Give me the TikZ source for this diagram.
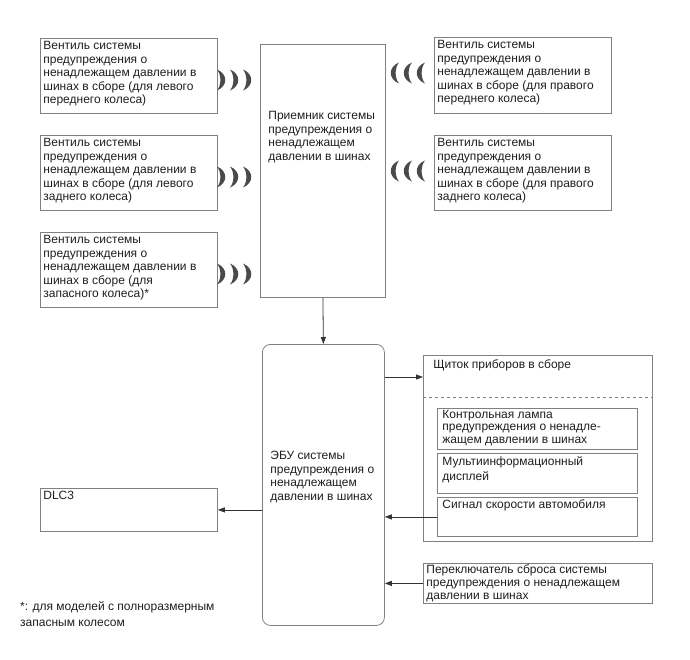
\documentclass[tikz,border=0pt]{standalone}
\usepackage{fontspec}
\setmainfont{Liberation Sans}
\usetikzlibrary{arrows.meta}
\definecolor{bordergray}{HTML}{808080}
\definecolor{textgray}{HTML}{1E1E1E}
\definecolor{linegray}{HTML}{333333}
\definecolor{wavegray}{HTML}{4A4A4A}
\newcommand{\tb}[3]{\begin{minipage}[t][#2pt][t]{#1pt}\raggedright\strut #3\end{minipage}}
\newcommand{\tbv}[4]{\begin{minipage}[t][#2pt][t]{#1pt}\raggedright\vspace*{#3pt}\strut #4\end{minipage}}
\newcommand{\crR}[2]{\fill[wavegray] (#1,#2-10.5) .. controls (#1+11,#2-6) and (#1+11,#2+6) .. (#1,#2+10.5) .. controls (#1+4.5,#2+5) and (#1+4.5,#2-5) .. (#1,#2-10.5) -- cycle;}
\newcommand{\crL}[2]{\fill[wavegray] (#1,#2-10.5) .. controls (#1-11,#2-6) and (#1-11,#2+6) .. (#1,#2+10.5) .. controls (#1-4.5,#2+5) and (#1-4.5,#2-5) .. (#1,#2-10.5) -- cycle;}
\begin{document}
\begin{tikzpicture}[x=1pt,y=-1pt,
  font=\fontsize{12}{13.5}\selectfont,
  box/.style={draw=bordergray, line width=0.8pt, anchor=north west, inner xsep=3pt, inner ysep=2pt, text=textgray},
  arr/.style={draw=linegray, line width=0.8pt, -{Triangle[length=7pt,width=5pt]}},
  note/.style={anchor=north west, inner sep=0pt, align=left, text=textgray}]
\useasboundingbox (0,0) rectangle (690,659);
% left valves
\node[box] (lf) at (40,38) {\tb{171}{71}{Вентиль системы\\предупреждения о\\ненадлежащем давлении в\\шинах в сборе (для левого\\переднего колеса)}};
\node[box] (lr) at (40,135) {\tb{171}{71}{Вентиль системы\\предупреждения о\\ненадлежащем давлении в\\шинах в сборе (для левого\\заднего колеса)}};
\node[box] (sp) at (40,232) {\tb{171}{71}{Вентиль системы\\предупреждения о\\ненадлежащем давлении в\\шинах в сборе (для\\запасного колеса)*}};
% right valves
\node[box] (rf) at (434,37) {\tb{171}{72}{Вентиль системы\\предупреждения о\\ненадлежащем давлении в\\шинах в сборе (для правого\\переднего колеса)}};
\node[box] (rr) at (434,135) {\tb{171}{71}{Вентиль системы\\предупреждения о\\ненадлежащем давлении в\\шинах в сборе (для правого\\заднего колеса)}};
% receiver
\node[box, inner xsep=8pt] (rc) at (260,44) {\tbv{109}{249}{64}{Приемник системы\\предупреждения о\\ненадлежащем\\давлении в шинах}};
% ECU
\node[box, rounded corners=8pt, inner xsep=8pt] (ecu) at (262,344) {\tbv{106}{277}{104}{ЭБУ системы\\предупреждения о\\ненадлежащем\\давлении в шинах}};
% cluster
\node[box, inner xsep=10pt, inner ysep=4pt] (cl) at (423,355) {\tb{209}{178}{Щиток приборов в сборе}};
\draw[bordergray, line width=0.8pt, dashed] (cl.west |- 0,397) -- (cl.east |- 0,397);
\node[box, inner xsep=5pt, inner ysep=1pt, font=\fontsize{12}{12.5}\selectfont] (lamp) at (437,408) {\tb{190}{39}{Контрольная лампа\\предупреждения о ненадле-\\жащем давлении в шинах}};
\node[box, inner xsep=5pt, inner ysep=2pt, font=\fontsize{12}{15}\selectfont] (mid) at (437,453) {\tb{190}{36}{Мультиинформационный\\дисплей}};
\node[box, inner xsep=5pt, inner ysep=2pt] (sig) at (437,497) {\tb{190}{35}{Сигнал скорости автомобиля}};
% switch
\node[box, inner ysep=1pt, font=\fontsize{12}{13}\selectfont] (sw) at (423,563) {\tb{223}{38}{Переключатель сброса системы\\предупреждения о ненадлежащем\\давлении в шинах}};
% DLC3
\node[box] (dlc) at (40,488) {\tb{171}{39}{DLC3}};
% footnote
\node[note, font=\fontsize{12}{16}\selectfont] (fn) at (20,601) {*: для моделей с полноразмерным\\запасным колесом};
% waves
\crR{217}{80}\crR{230}{80}\crR{243}{80}
\crR{217}{177}\crR{230}{177}\crR{243}{177}
\crR{217}{274}\crR{230}{274}\crR{243}{274}
\crL{399}{73}\crL{412}{73}\crL{425}{73}
\crL{399}{171}\crL{412}{171}\crL{425}{171}
% connectors
\draw[arr] (rc.south) -- (ecu.north);
\path (cl.north west) ++(0,22) coordinate (clin);
\draw[arr] (ecu.east |- clin) -- (clin);
\draw[arr] (sig.west) -- (ecu.east |- sig.west);
\draw[arr] (sw.west) -- (ecu.east |- sw.west);
\draw[arr] (ecu.west |- dlc.east) -- (dlc.east);
\end{tikzpicture}
\end{document}
